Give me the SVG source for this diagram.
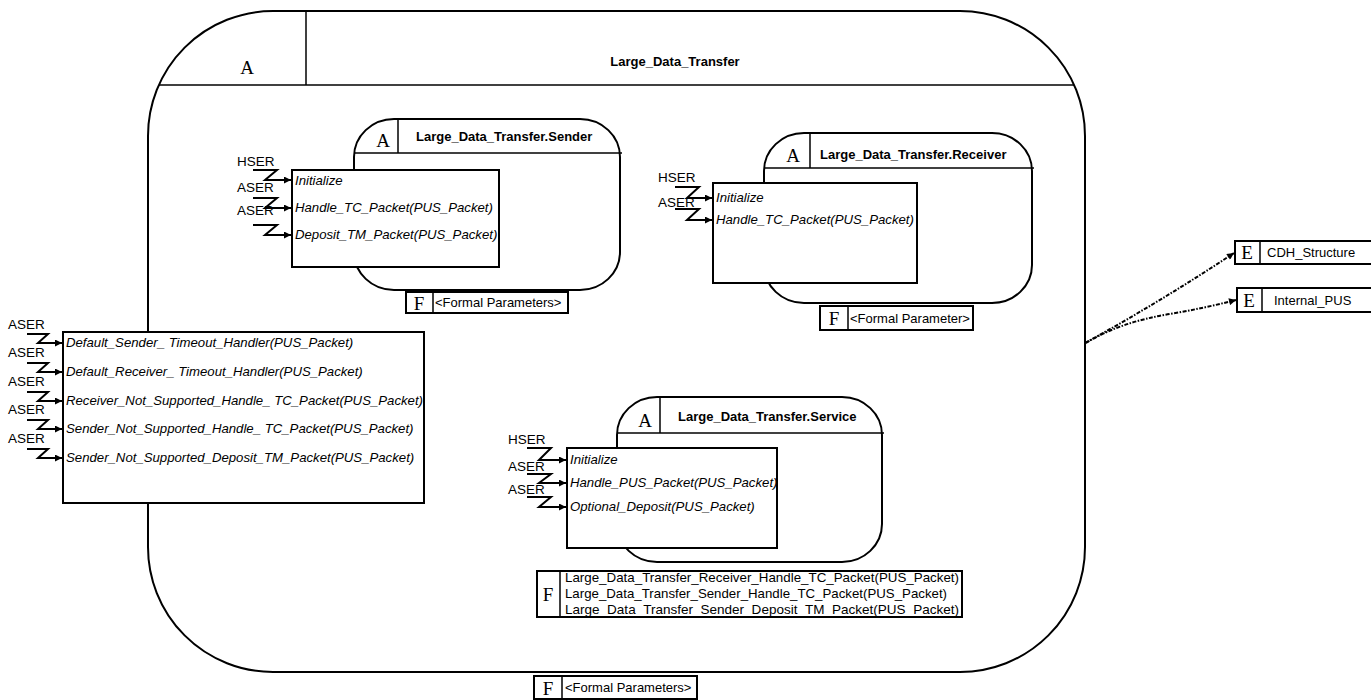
<svg xmlns="http://www.w3.org/2000/svg" width="1371" height="700" viewBox="0 0 1371 700">
<defs>
<marker id="ah" viewBox="0 0 10 10" refX="10" refY="5" markerWidth="9" markerHeight="7" markerUnits="userSpaceOnUse" orient="auto"><path d="M0,0 L10,5 L0,10 z" fill="#000"/></marker>
<marker id="ah2" viewBox="0 0 10 10" refX="10" refY="5" markerWidth="9" markerHeight="7" markerUnits="userSpaceOnUse" orient="auto"><path d="M0,0 L10,5 L0,10 z" fill="#000"/></marker>
</defs>
<style>
.sh{fill:none;stroke:#000;stroke-width:2}
.bx{fill:#fff;stroke:#000;stroke-width:2}
.ln{stroke:#000;stroke-width:1.5;fill:none}
.z{fill:none;stroke:#000;stroke-width:2;marker-end:url(#ah)}
.lab{font-family:"Liberation Sans",Arial,sans-serif;font-size:13.5px;fill:#000}
.it{font-family:"Liberation Sans",Arial,sans-serif;font-size:13.2px;font-style:italic;fill:#000}
.ti{font-family:"Liberation Sans",Arial,sans-serif;font-size:13px;font-weight:bold;fill:#000}
.sm{font-family:"Liberation Sans",Arial,sans-serif;font-size:13px;fill:#000}
.sf{font-family:"Liberation Serif","Times New Roman",serif;font-size:19px;fill:#000}
.cn{fill:none;stroke:#000;stroke-width:2;stroke-dasharray:4 1.5 1.5 1.5;marker-end:url(#ah2)}
</style>
<rect width="1371" height="700" fill="#fff"/>

<g id="outer">
<rect class="sh" x="148" y="11" width="937" height="661" rx="125" ry="125"/>
<line class="ln" x1="159" y1="85" x2="1074" y2="85"/>
<line class="ln" x1="306" y1="11" x2="306" y2="85"/>
<text class="sf" x="247" y="74" text-anchor="middle">A</text>
<text class="ti" x="675" y="66" text-anchor="middle">Large_Data_Transfer</text>
</g>

<g id="outer-formal">
<rect class="bx" x="534" y="676" width="163" height="23" stroke-width="1.5"/>
<line class="ln" x1="562" y1="676" x2="562" y2="699"/>
<text class="sf" x="548" y="695" text-anchor="middle">F</text>
<text class="sm" x="565" y="692">&lt;Formal Parameters&gt;</text>
</g>

<g id="sender">
<rect class="sh" x="354" y="119" width="266" height="171" rx="40" ry="38"/>
<line class="ln" x1="354" y1="153" x2="622" y2="153"/>
<line class="ln" x1="398" y1="119" x2="398" y2="153"/>
<text class="sf" x="383" y="147" text-anchor="middle">A</text>
<text class="ti" x="416" y="141">Large_Data_Transfer.Sender</text>
<rect class="bx" x="292" y="170" width="207" height="97"/>
<text class="it" x="295" y="185">Initialize</text>
<text class="it" x="295" y="212">Handle_TC_Packet(PUS_Packet)</text>
<text class="it" x="295" y="239">Deposit_TM_Packet(PUS_Packet)</text>
<text class="lab" x="237" y="166">HSER</text>
<text class="lab" x="237" y="192">ASER</text>
<text class="lab" x="237" y="215">ASER</text>
<path class="z" d="M253,170 H277 L265,180 H291"/>
<path class="z" d="M253,198 H277 L265,208 H291"/>
<path class="z" d="M253,225 H277 L265,235 H291"/>
</g>
<g id="sender-formal">
<rect class="bx" x="406" y="292" width="162" height="21" stroke-width="1.5"/>
<line class="ln" x1="433" y1="292" x2="433" y2="313"/>
<text class="sf" x="419" y="310" text-anchor="middle">F</text>
<text class="sm" x="435" y="307">&lt;Formal Parameters&gt;</text>
</g>

<g id="receiver">
<rect class="sh" x="764" y="133" width="268" height="170" rx="40" ry="38"/>
<line class="ln" x1="764" y1="168" x2="1034" y2="168"/>
<line class="ln" x1="810" y1="133" x2="810" y2="168"/>
<text class="sf" x="793" y="162" text-anchor="middle">A</text>
<text class="ti" x="820" y="159">Large_Data_Transfer.Receiver</text>
<rect class="bx" x="713" y="183" width="204" height="100"/>
<text class="it" x="716" y="202">Initialize</text>
<text class="it" x="716" y="224">Handle_TC_Packet(PUS_Packet)</text>
<text class="lab" x="658" y="182">HSER</text>
<text class="lab" x="658" y="207">ASER</text>
<path class="z" d="M675,187 H699 L687,198 H712"/>
<path class="z" d="M675,209 H699 L687,220 H712"/>
</g>
<g id="receiver-formal">
<rect class="bx" x="820" y="306" width="153" height="24" stroke-width="1.5"/>
<line class="ln" x1="848" y1="306" x2="848" y2="330"/>
<text class="sf" x="834" y="325" text-anchor="middle">F</text>
<text class="sm" x="850" y="323">&lt;Formal Parameter&gt;</text>
</g>

<g id="service">
<rect class="sh" x="617" y="397" width="265" height="165" rx="40" ry="38"/>
<line class="ln" x1="617" y1="433" x2="884" y2="433"/>
<line class="ln" x1="660" y1="397" x2="660" y2="433"/>
<text class="sf" x="645" y="427" text-anchor="middle">A</text>
<text class="ti" x="678" y="421">Large_Data_Transfer.Service</text>
<rect class="bx" x="567" y="448" width="210" height="100"/>
<text class="it" x="570" y="464">Initialize</text>
<text class="it" x="570" y="487">Handle_PUS_Packet(PUS_Packet)</text>
<text class="it" x="570" y="511">Optional_Deposit(PUS_Packet)</text>
<text class="lab" x="508" y="444">HSER</text>
<text class="lab" x="508" y="471">ASER</text>
<text class="lab" x="508" y="494">ASER</text>
<path class="z" d="M527,448 H551 L539,460 H566"/>
<path class="z" d="M527,474 H551 L539,483 H566"/>
<path class="z" d="M527,497 H551 L539,507 H566"/>
</g>
<g id="service-formal">
<rect class="bx" x="537" y="571" width="425" height="46" stroke-width="1.5"/>
<line class="ln" x1="560" y1="571" x2="560" y2="617"/>
<text class="sf" x="548" y="601" text-anchor="middle">F</text>
<text class="sm" x="565" y="582" textLength="394" lengthAdjust="spacingAndGlyphs">Large_Data_Transfer_Receiver_Handle_TC_Packet(PUS_Packet)</text>
<text class="sm" x="565" y="598" textLength="382" lengthAdjust="spacingAndGlyphs">Large_Data_Transfer_Sender_Handle_TC_Packet(PUS_Packet)</text>
<text class="sm" x="565" y="614" textLength="394" lengthAdjust="spacingAndGlyphs">Large_Data_Transfer_Sender_Deposit_TM_Packet(PUS_Packet)</text>
</g>

<g id="handlers">
<rect class="bx" x="63" y="332" width="361" height="171"/>
<text class="it" x="66" y="347">Default_Sender_ Timeout_Handler(PUS_Packet)</text>
<text class="it" x="66" y="376">Default_Receiver_ Timeout_Handler(PUS_Packet)</text>
<text class="it" x="66" y="405">Receiver_Not_Supported_Handle_ TC_Packet(PUS_Packet)</text>
<text class="it" x="66" y="433">Sender_Not_Supported_Handle_ TC_Packet(PUS_Packet)</text>
<text class="it" x="66" y="462">Sender_Not_Supported_Deposit_TM_Packet(PUS_Packet)</text>
<text class="lab" x="8" y="329">ASER</text>
<text class="lab" x="8" y="357">ASER</text>
<text class="lab" x="8" y="386">ASER</text>
<text class="lab" x="8" y="414">ASER</text>
<text class="lab" x="8" y="443">ASER</text>
<path class="z" d="M27,334 H48 L38,343 H62"/>
<path class="z" d="M27,363 H48 L38,372 H62"/>
<path class="z" d="M27,392 H48 L38,401 H62"/>
<path class="z" d="M27,420 H48 L38,429 H62"/>
<path class="z" d="M27,449 H48 L38,458 H62"/>
</g>

<g id="cdh">
<rect class="bx" x="1235" y="241" width="145" height="23" stroke-width="1.5"/>
<line class="ln" x1="1260" y1="241" x2="1260" y2="264"/>
<text class="sf" x="1247" y="259" text-anchor="middle">E</text>
<text class="sm" x="1267" y="257">CDH_Structure</text>
</g>
<g id="internal-pus">
<rect class="bx" x="1237" y="288" width="145" height="24" stroke-width="1.5"/>
<line class="ln" x1="1262" y1="288" x2="1262" y2="312"/>
<text class="sf" x="1249" y="307" text-anchor="middle">E</text>
<text class="sm" x="1274" y="305">Internal_PUS</text>
</g>

<g id="connectors">
<path class="cn" d="M1085,343 Q1160,302 1234,253"/>
<path class="cn" d="M1086,343 Q1120,322 1170,314 Q1205,308 1236,300"/>
</g>
</svg>
